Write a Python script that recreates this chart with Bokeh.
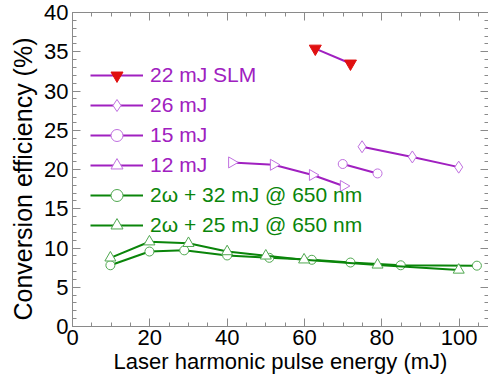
import math
from bokeh.plotting import figure
from bokeh.models import Legend, LegendItem, LinearAxis, Range1d, SingleIntervalTicker, CustomJSTickFormatter, Title
from bokeh.embed import file_html
from bokeh.resources import INLINE

# Data
slm22_x = [62.8, 71.9]
slm22_y = [35.4, 33.5]
mj26_x = [74.9, 87.9, 99.9]
mj26_y = [22.9, 21.6, 20.3]
mj15_x = [69.9, 78.9]
mj15_y = [20.7, 19.5]
mj12_x = [41.2, 52.0, 62.1, 70.1]
mj12_y = [20.9, 20.6, 19.3, 17.9]
w32_x = [9.8, 19.9, 28.9, 40.0, 50.9, 61.9, 71.9, 84.9, 104.6]
w32_y = [7.8, 9.55, 9.7, 9.05, 8.75, 8.5, 8.15, 7.8, 7.75]
w25_x = [9.8, 19.9, 30.0, 40.0, 50.0, 59.9, 78.9, 99.9]
w25_y = [8.75, 10.8, 10.6, 9.55, 9.0, 8.5, 7.85, 7.2]

labels_purple = ["22 mJ SLM", "26 mJ", "15 mJ", "12 mJ"]
labels_green = ["2\u03c9 + 32 mJ @ 650 nm", "2\u03c9 + 25 mJ @ 650 nm"]
x_title = "Laser harmonic pulse energy (mJ)"
y_title = "Conversion efficiency (%)"

PURPLE = "#A020C0"
PURPLE_M = "#C070E0"
GREEN = "#0A850A"
GREEN_M = "#50A850"
RED = "#E01010"
FONT = "Liberation Sans"
FS = "22px"

p = figure(width=488, height=385, x_range=Range1d(0, 107.6), y_range=Range1d(0, 40),
           output_backend="svg", toolbar_location=None,
           min_border_left=72, min_border_right=0, min_border_top=12, min_border_bottom=59)
p.background_fill_color = "white"
p.border_fill_color = "white"
p.outline_line_color = None
p.xgrid.visible = False
p.ygrid.visible = False

AX = "#8a8a8a"

def style_axis(ax, labels=True):
    ax.axis_line_color = AX
    ax.major_tick_line_color = AX
    ax.minor_tick_line_color = AX
    ax.major_tick_in = 8
    ax.major_tick_out = 0
    ax.minor_tick_in = 4
    ax.minor_tick_out = 0
    ax.major_label_text_font = FONT
    ax.major_label_text_font_size = FS
    ax.major_label_text_color = "black"
    ax.axis_label_text_font = FONT
    ax.axis_label_text_font_size = FS
    ax.axis_label_text_font_style = "normal"
    ax.axis_label_text_color = "black"
    if not labels:
        ax.formatter = CustomJSTickFormatter(code="return '';")
        ax.major_label_text_font_size = "1px"
        ax.major_label_standoff = 0

p.xaxis.ticker = SingleIntervalTicker(interval=20, num_minor_ticks=4)
p.yaxis.ticker = SingleIntervalTicker(interval=5, num_minor_ticks=5)
style_axis(p.xaxis[0])
style_axis(p.yaxis[0])
p.xaxis.axis_label = x_title
p.xaxis.major_label_standoff = 3
p.yaxis.major_label_standoff = 4
p.xaxis.axis_label_standoff = 1

yt = Title(text=y_title, align="left", offset=6, vertical_align="middle",
           text_font=FONT, text_font_size="25px", text_font_style="normal",
           text_color="black", standoff=7)
p.add_layout(yt, "left")

top = LinearAxis(ticker=SingleIntervalTicker(interval=20, num_minor_ticks=4))
style_axis(top, labels=False)
p.add_layout(top, "above")
right = LinearAxis(ticker=SingleIntervalTicker(interval=5, num_minor_ticks=5))
style_axis(right, labels=False)
right.axis_line_color = None
p.add_layout(right, "right")

LW = 2
r1l = p.line(slm22_x, slm22_y, line_color=PURPLE, line_width=LW)
r1m = p.scatter(slm22_x, slm22_y, marker="inverted_triangle", size=12, fill_color=RED, line_color=RED)
r2l = p.line(mj26_x, mj26_y, line_color=PURPLE, line_width=LW)
r2m = p.scatter(mj26_x, mj26_y, marker="diamond", size=12, fill_color="white", line_color=PURPLE_M, line_width=1)
r3l = p.line(mj15_x, mj15_y, line_color=PURPLE, line_width=LW)
r3m = p.scatter(mj15_x, mj15_y, marker="circle", size=9, fill_color="white", line_color=PURPLE_M, line_width=1)
r4l = p.line(mj12_x, mj12_y, line_color=PURPLE, line_width=LW)
r4m = p.scatter(mj12_x, mj12_y, marker="triangle", angle=-math.pi / 2, size=11, fill_color="white", line_color=PURPLE_M, line_width=1)
r5l = p.line(w32_x, w32_y, line_color=GREEN, line_width=LW)
r5m = p.scatter(w32_x, w32_y, marker="circle", size=9, fill_color="white", line_color=GREEN_M, line_width=1)
r6l = p.line(w25_x, w25_y, line_color=GREEN, line_width=LW)
r6m = p.scatter(w25_x, w25_y, marker="triangle", size=11, fill_color="white", line_color=GREEN_M, line_width=1)

def make_legend(items, color, loc):
    lg = Legend(items=items, location=loc, orientation="vertical")
    lg.label_text_color = color
    lg.label_text_font = FONT
    lg.label_text_font_size = "21px"
    lg.border_line_color = None
    lg.background_fill_alpha = 0
    lg.padding = 0
    lg.margin = 0
    lg.spacing = 0
    lg.glyph_width = 53
    lg.glyph_height = 30
    lg.label_height = 30
    lg.label_standoff = 7
    return lg

leg1 = make_legend([
    LegendItem(label=labels_purple[0], renderers=[r1l, r1m]),
    LegendItem(label=labels_purple[1], renderers=[r2l, r2m]),
    LegendItem(label=labels_purple[2], renderers=[r3l, r3m]),
    LegendItem(label=labels_purple[3], renderers=[r4l, r4m]),
], PURPLE, (18, 146))
leg2 = make_legend([
    LegendItem(label=labels_green[0], renderers=[r5l, r5m]),
    LegendItem(label=labels_green[1], renderers=[r6l, r6m]),
], GREEN, (18, 86))
p.add_layout(leg1, "center")
p.add_layout(leg2, "center")

open("out.html", "w").write(file_html(p, INLINE))
